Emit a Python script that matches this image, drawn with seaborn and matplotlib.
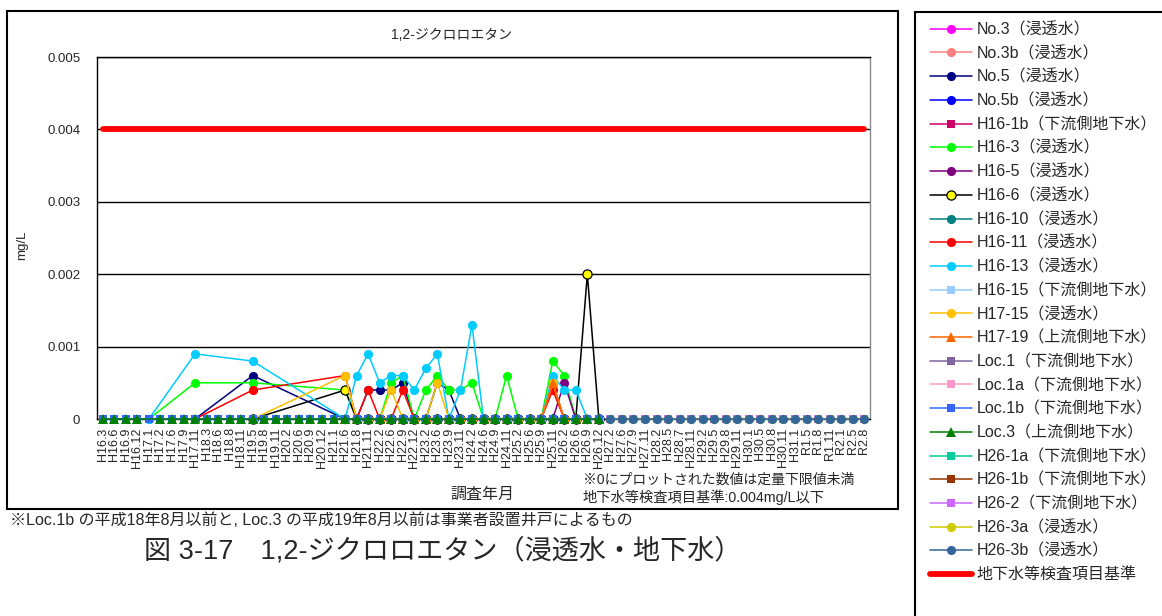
import numpy as np
import pandas as pd
import seaborn as sns
import matplotlib.pyplot as plt
from matplotlib.patches import Rectangle

sns.set_style("white")
plt.rcParams['font.family'] = ['Liberation Sans', 'Noto Sans CJK JP']

W, H = 1162, 616

months = ["H16.3", "H16.6", "H16.9", "H16.12", "H17.1", "H17.2", "H17.6", "H17.9", "H17.11",
          "H18.3", "H18.6", "H18.8", "H18.11", "H19.5", "H19.8", "H19.11", "H20.2", "H20.6",
          "H20.9", "H20.12", "H21.1", "H21.6", "H21.8", "H21.11", "H22.2", "H22.6", "H22.9",
          "H22.12", "H23.2", "H23.6", "H23.9", "H23.11", "H24.2", "H24.6", "H24.9", "H24.11",
          "H25.2", "H25.6", "H25.9", "H25.11", "H26.2", "H26.6", "H26.9", "H26.12", "H27.2",
          "H27.6", "H27.9", "H27.11", "H28.2", "H28.5", "H28.7", "H28.11", "H29.2", "H29.5",
          "H29.8", "H29.11", "H30.1", "H30.5", "H30.8", "H30.11", "H31.1", "R1.5", "R1.8",
          "R1.11", "R2.1", "R2.5", "R2.8"]

_ = None
# mg/L, None = no measurement; 0 = below quantification limit
# H16.3-H21.1 (21) | H21.6-H26.12 (23) | H27.2-R2.8 (23)
no3 = [_] * 21 + [0] * 23 + [_] * 23
no3b = [_] * 21 + [0] * 23 + [_] * 23
no5 = ([_, _, _, _, _, _, _, _, 0, _, _, _, _, .0006, _, _, _, _, _, _, _]
       + [0, 0, .0004, .0004, .0004, .0005, 0, 0, .0005, .0004, 0, 0, 0, 0, 0, 0, 0, 0, .0005, 0, 0, 0, 0]
       + [_] * 23)
no5b = [_] * 21 + [0] * 23 + [_] * 23
h16_1b = [_] * 21 + [0] * 23 + [_] * 23
h16_3 = ([_, _, _, _, 0, _, _, _, .0005, _, _, _, _, .0005, _, _, _, _, _, _, _]
         + [.0004, 0, 0, 0, .0005, .0006, 0, .0004, .0006, .0004, .0004, .0005, 0, 0, .0006, 0, 0, 0, .0008, .0006, 0, 0, 0]
         + [_] * 23)
h16_5 = [_] * 21 + [0] * 19 + [.0005, 0, 0, 0] + [_] * 23
h16_6 = ([_] * 13 + [0] + [_] * 7
         + [.0004, 0, 0, 0, 0, 0, 0, 0, 0, 0, 0, 0, 0, 0, 0, 0, 0, 0, 0, 0, 0, .002, 0]
         + [_] * 23)
h16_10 = [_] * 21 + [0] * 23 + [_] * 23
h16_11 = ([_, _, _, _, _, _, _, _, 0, _, _, _, _, .0004, _, _, _, _, _, _, _]
          + [.0006, 0, .0004, 0, 0, .0004, 0, 0, 0, 0, 0, 0, 0, 0, 0, 0, 0, 0, .0004, 0, 0, 0, 0]
          + [_] * 23)
h16_13 = ([_, _, _, _, 0, _, _, _, .0009, _, _, _, _, .0008, _, _, _, _, _, _, _]
          + [0, .0006, .0009, .0005, .0006, .0006, .0004, .0007, .0009, 0, .0004, .0013, 0, 0, 0, 0, 0, 0, .0006, .0004, .0004, 0, 0]
          + [_] * 23)
h16_15 = [_] * 21 + [0] * 23 + [_] * 23
h17_15 = ([_] * 13 + [0] + [_] * 7
          + [.0006, 0, 0, 0, .0004, 0, 0, 0, .0005, 0, 0, 0, 0, 0, 0, 0, 0, 0, .0005, 0, 0, 0, 0]
          + [_] * 23)
h17_19 = [_] * 21 + [0] * 18 + [.0005, 0, 0, 0, 0] + [_] * 23
loc1 = [_] * 21 + [0] * 23 + [_] * 23
loc1a = [_] * 21 + [0] * 23 + [_] * 23
loc1b = [0] * 44 + [_] * 23
loc3 = [0, 0, 0, 0, _] + [0] * 39 + [_] * 23
h26_1a = [_] * 44 + [0] * 23
h26_1b = [_] * 44 + [0] * 23
h26_2 = [_] * 44 + [0] * 23
h26_3a = [_] * 44 + [0] * 23
h26_3b = [_] * 44 + [0] * 23
standard = [0.004] * 67

# name, values, line colour, marker, marker face
series = [
    ("No.3（浸透水）", no3, "#FF00FF", "o", None),
    ("No.3b（浸透水）", no3b, "#FF8080", "o", None),
    ("No.5（浸透水）", no5, "#000080", "o", None),
    ("No.5b（浸透水）", no5b, "#0000FF", "o", None),
    ("H16-1b（下流側地下水）", h16_1b, "#CC0066", "s", None),
    ("H16-3（浸透水）", h16_3, "#00FF00", "o", None),
    ("H16-5（浸透水）", h16_5, "#800080", "o", None),
    ("H16-6（浸透水）", h16_6, "#000000", "o", "#FFFF00"),
    ("H16-10（浸透水）", h16_10, "#008080", "o", None),
    ("H16-11（浸透水）", h16_11, "#FF0000", "o", None),
    ("H16-13（浸透水）", h16_13, "#00CCFF", "o", None),
    ("H16-15（下流側地下水）", h16_15, "#99CCFF", "s", None),
    ("H17-15（浸透水）", h17_15, "#FFC000", "o", None),
    ("H17-19（上流側地下水）", h17_19, "#FF6600", "^", None),
    ("Loc.1（下流側地下水）", loc1, "#8064A2", "s", None),
    ("Loc.1a（下流側地下水）", loc1a, "#FF99CC", "s", None),
    ("Loc.1b（下流側地下水）", loc1b, "#3366FF", "s", None),
    ("Loc.3（上流側地下水）", loc3, "#008000", "^", None),
    ("H26-1a（下流側地下水）", h26_1a, "#00CC99", "s", None),
    ("H26-1b（下流側地下水）", h26_1b, "#993300", "s", None),
    ("H26-2（下流側地下水）", h26_2, "#CC66FF", "s", None),
    ("H26-3a（浸透水）", h26_3a, "#CCCC00", "o", None),
    ("H26-3b（浸透水）", h26_3b, "#336699", "o", None),
]

fig = plt.figure(figsize=(W / 100, H / 100), dpi=100)
ax = fig.add_axes([97 / W, 1 - 419 / H, 773 / W, 362 / H])

pos = np.arange(len(months))
for name, vals, color, marker, face in series:
    d = pd.DataFrame({"pos": pos, "val": vals}).dropna()
    d["val"] = d["val"].astype(float)
    if face is None:
        kw = dict(mfc=color, mec=color, mew=0)
    else:
        kw = dict(mfc=face, mec="black", mew=0.9)
    ms = 6.6 if marker == "o" else (7.8 if marker == "^" else 6.4)
    sns.lineplot(data=d, x="pos", y="val", color=color, marker=marker, ms=ms, lw=1.1,
                 label=name, legend=False, ax=ax, clip_on=False, zorder=3, **kw)

d = pd.DataFrame({"pos": pos, "val": standard})
sns.lineplot(data=d, x="pos", y="val", color="#FF0000", lw=4.2, solid_capstyle="round",
             label="地下水等検査項目基準", legend=False, ax=ax, zorder=3)

ax.set_xlim(-0.5, len(months) - 0.5)
ax.set_ylim(0, 0.005)
ax.set_yticks([0, 0.001, 0.002, 0.003, 0.004, 0.005])
ax.set_yticklabels(["0", "0.001", "0.002", "0.003", "0.004", "0.005"], fontsize=9.5)
ax.yaxis.grid(True, color="black", lw=1)
ax.set_axisbelow(True)
ax.set_xticks(pos)
ax.set_xticklabels(months, rotation=90, fontsize=9)
ax.set_xticks(np.arange(-0.5, len(months), 1), minor=True)
ax.tick_params(axis="x", which="major", length=0, pad=6)
ax.tick_params(axis="x", which="minor", length=3, direction="out", color="black")
ax.tick_params(axis="y", length=0, pad=12)
ax.set_xlabel("")
ax.set_ylabel("")
for s in ax.spines.values():
    s.set_color("black")
    s.set_linewidth(1)
ax.spines["right"].set_color("#888888")

# chart frame and legend frame
fig.patches.append(Rectangle((7 / W, 1 - 509 / H), 891 / W, 498 / H, transform=fig.transFigure,
                             fill=False, ec="black", lw=1.5))
fig.patches.append(Rectangle((915 / W, -0.05), 0.3, 1 - 12 / H + 0.05, transform=fig.transFigure,
                             fill=False, ec="black", lw=1.5))

handles, labels = ax.get_legend_handles_labels()
fig.legend(handles, labels, loc="upper left", bbox_to_anchor=(930 / W, 1 - 22 / H),
           bbox_transform=fig.transFigure, frameon=False, fontsize=11.5, borderaxespad=0,
           borderpad=0, handlelength=2.6, handletextpad=0.3, labelspacing=0.53)

fig.text(452 / W, 1 - 35 / H, "1,2-ジクロロエタン", ha="center", va="center", fontsize=10)
fig.text(22 / W, 1 - 245 / H, "mg/L", ha="center", va="center", rotation=90, fontsize=9.5)
fig.text(482 / W, 1 - 494 / H, "調査年月", ha="center", va="center", fontsize=11.5)
fig.text(583 / W, 1 - 480 / H, "※0にプロットされた数値は定量下限値未満", ha="left", va="center", fontsize=10)
fig.text(583 / W, 1 - 497 / H, "地下水等検査項目基準:0.004mg/L以下", ha="left", va="center", fontsize=10.3)
fig.text(10 / W, 1 - 520 / H, "※Loc.1b の平成18年8月以前と, Loc.3 の平成19年8月以前は事業者設置井戸によるもの",
         ha="left", va="center", fontsize=11.5)
fig.text(443 / W, 1 - 551 / H, "図 3-17　1,2-ジクロロエタン（浸透水・地下水）", ha="center", va="center",
         fontsize=19.5)

fig.savefig("out.png", dpi=100)
